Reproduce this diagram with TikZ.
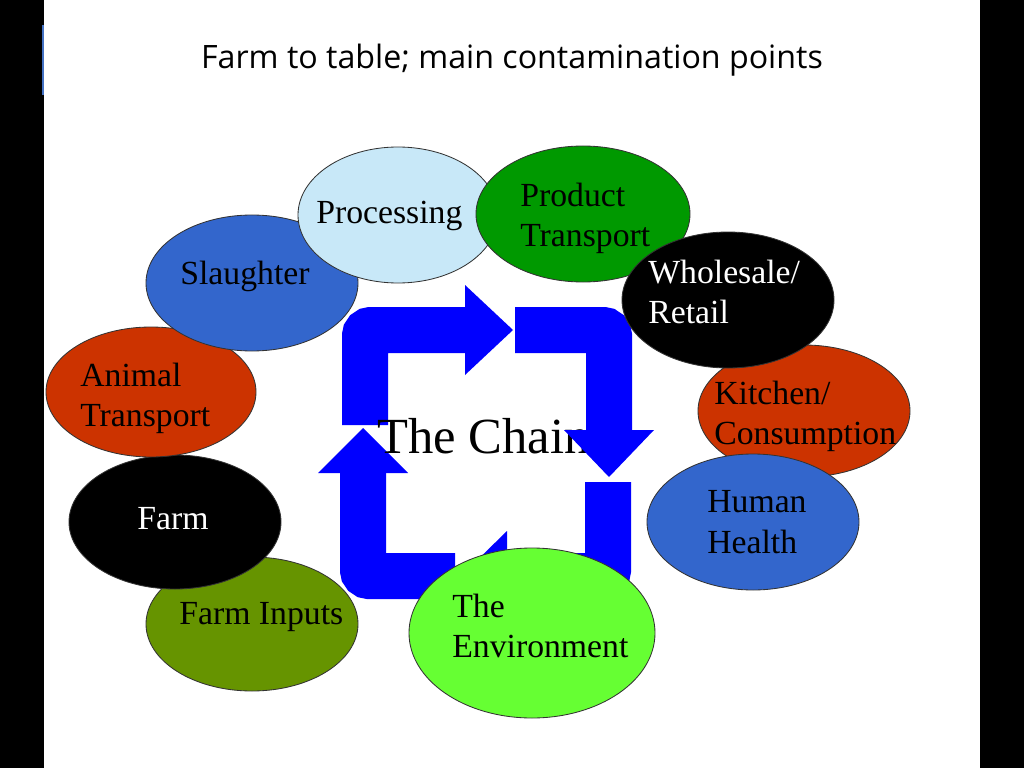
\documentclass[tikz,border=0pt]{standalone}
\usepackage{fontspec}
\setmainfont{Liberation Serif}
\newfontfamily\titlefont{Open Sans}
\usepackage{tikz}
\usetikzlibrary{shapes.geometric}
\definecolor{lightblue}{RGB}{200,232,248}
\definecolor{prodgreen}{RGB}{0,153,0}
\definecolor{midblue}{RGB}{51,102,204}
\definecolor{chainred}{RGB}{204,51,0}
\definecolor{inputsgreen}{RGB}{102,148,0}
\definecolor{envgreen}{RGB}{102,255,51}
\definecolor{chainblue}{RGB}{0,0,255}
\definecolor{edgeblue}{RGB}{68,114,196}

\begin{document}
\begin{tikzpicture}[blob/.style={ellipse,draw=black!80,line width=0.6pt,inner sep=0pt,minimum width=5.3cm,minimum height=3.4cm},
  lbl/.style={anchor=north west,inner sep=0pt,align=left,font=\fontsize{24}{29}\selectfont},
  chainarrow/.style={draw=chainblue,line width=1.15cm,rounded corners=0.15cm}]
\useasboundingbox (0cm,0cm) rectangle (25.6cm,-19.2cm);
\fill[white] (0cm,0cm) rectangle (25.6cm,-19.2cm);
\fill[black] (0cm,0cm) rectangle (1.1cm,-19.2cm);
\fill[black] (24.5cm,0cm) rectangle (25.6cm,-19.2cm);
\draw[edgeblue,line width=1.5pt] (1.07cm,-0.625cm) -- (1.07cm,-2.375cm);
\node[anchor=base] (title) at (12.8cm,-1.72cm) {\titlefont\fontsize{22.9}{28}\selectfont Farm to table; main contamination points};

% the chain
\draw[chainarrow] (11.375cm,-14.4cm) -- (9.075cm,-14.4cm) -- (9.075cm,-11.825cm);
\fill[chainblue] (7.95cm,-11.825cm) -- (9.075cm,-10.7cm) -- (10.2cm,-11.825cm) -- cycle;
\draw[chainarrow] (9.125cm,-10.625cm) -- (9.125cm,-8.25cm) -- (11.625cm,-8.25cm);
\fill[chainblue] (11.625cm,-7.125cm) -- (12.825cm,-8.25cm) -- (11.625cm,-9.375cm) -- cycle;
\draw[chainarrow] (15.2cm,-12.05cm) -- (15.2cm,-14.4cm) -- (12.675cm,-14.4cm);
\fill[chainblue] (12.675cm,-13.275cm) -- (11.525cm,-14.4cm) -- (12.675cm,-15.525cm) -- cycle;
\node[anchor=base west,inner sep=0pt,font=\fontsize{36}{43}\selectfont] (chain) at (9.425cm,-11.325cm) {The Chain};
\draw[chainarrow] (12.875cm,-8.25cm) -- (15.225cm,-8.25cm) -- (15.225cm,-10.75cm);
\fill[chainblue] (14.1cm,-10.75cm) -- (15.225cm,-11.925cm) -- (16.35cm,-10.75cm) -- cycle;

% contamination points
\node[blob,fill=inputsgreen,minimum height=3.35cm] (1) at (6.3cm,-15.6cm) {};
\node[lbl] (1a) at (4.475cm,-15.0625cm) {Farm Inputs};
\node[blob,fill=black,minimum height=3.35cm] (2) at (4.375cm,-13.05cm) {};
\node[lbl,text=white] (2a) at (3.425cm,-12.6875cm) {Farm};
\node[blob,fill=chainred,minimum width=5.25cm,minimum height=3.25cm] (3) at (3.775cm,-9.8cm) {};
\node[lbl] (3a) at (2.0cm,-9.0625cm) {Animal\\Transport};
\node[blob,fill=midblue] (4) at (6.3cm,-7.075cm) {};
\node[lbl] (4a) at (4.5cm,-6.5125cm) {Slaughter};
\node[blob,fill=lightblue,minimum width=5cm] (5) at (9.95cm,-5.375cm) {};
\node[lbl] (5a) at (7.9cm,-5.0125cm) {Processing};
\node[blob,fill=prodgreen,minimum width=5.35cm] (6) at (14.575cm,-5.35cm) {};
\node[lbl] (6a) at (13.0cm,-4.5625cm) {Product\\Transport};
\node[blob,fill=chainred,minimum height=3.3cm] (8) at (20.1cm,-10.275cm) {};
\node[lbl] (8a) at (17.85cm,-9.5125cm) {Kitchen/\\Consumption};
\node[blob,fill=black] (7) at (18.2cm,-7.5cm) {};
\node[lbl,text=white] (7a) at (16.2cm,-6.4875cm) {Wholesale/\\Retail};
\node[blob,fill=midblue] (9) at (18.825cm,-13.05cm) {};
\node[lbl] (9a) at (17.675cm,-12.2625cm) {Human\\Health};
\node[blob,fill=envgreen,minimum width=6.15cm,minimum height=4.25cm] (10) at (13.3cm,-15.825cm) {};
\node[lbl] (10a) at (11.3cm,-14.8375cm) {The\\Environment};
\end{tikzpicture}
\end{document}
